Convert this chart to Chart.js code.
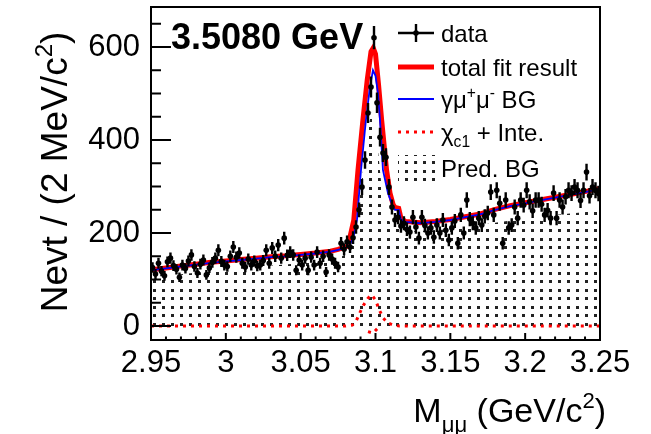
<!DOCTYPE html>
<html><head><meta charset="utf-8">
<script src="https://cdn.jsdelivr.net/npm/chart.js@4/dist/chart.umd.min.js"></script>
<style>html,body{margin:0;padding:0;background:#fff}#wrap{width:651px;height:434px;position:relative}</style>
</head><body><div id="wrap"><canvas id="c" width="651" height="434"></canvas></div>
<script>
// ---------------- data ----------------
const binLow = 2.95, binWidth = 0.002, nBins = 150;
const binCentres = Array.from({length: nBins}, (_, i) => +(binLow + binWidth * (i + 0.5)).toFixed(4));
const counts = [
 126,112,135,118,108,138,146,130,122,105,
 131,124,140,153,128,114,133,142,110,125,
 137,146,163,139,131,128,150,170,148,157,
 135,127,144,131,140,129,131,141,163,135,
 168,150,174,146,189,152,159,153,120,142,
 131,146,120,148,131,159,135,150,116,153,
 144,135,127,178,165,181,170,190,213,250,
 299,357,458,514,620,480,406,372,363,299,
 256,228,234,215,221,208,202,234,213,189,
 234,216,200,211,191,217,200,228,206,185,
 211,226,178,239,200,271,230,221,211,232,
 217,236,243,288,239,292,264,178,271,211,
 217,256,232,271,260,292,267,248,271,271,
 262,239,249,232,286,232,271,256,278,292,
 286,299,292,270,292,331,280,299,292,285
];
// gamma mu+ mu- background (blue)
const bgX = [2.950,2.960,2.970,2.980,2.990,3.000,3.010,3.020,3.030,3.040,3.050,3.060,3.070,3.075,3.080,3.083,3.0855,3.0876,3.0903,3.0936,3.0963,3.0983,3.1000,3.1017,3.1030,3.1050,3.1083,3.1117,3.1130,3.1155,3.1170,3.1200,3.130,3.140,3.150,3.160,3.170,3.180,3.190,3.200,3.210,3.220,3.230,3.240,3.250];
const bgY = [120,124,128,132,136,139,142,145,148,150,153,156,160,164,168,175,195,228,335,443,514,550,538,500,443,335,286,256,250,250,229,224,221,224,228,234,240,250,258,264,270,276,282,288,295];
// total fit result (red)
const totX = [2.950,2.960,2.970,2.980,2.990,3.000,3.010,3.020,3.030,3.040,3.050,3.060,3.070,3.075,3.0816,3.0855,3.0883,3.0916,3.0945,3.0970,3.0985,3.1000,3.1020,3.1041,3.1074,3.1097,3.1117,3.1130,3.1155,3.1170,3.1200,3.130,3.140,3.150,3.160,3.170,3.180,3.190,3.200,3.210,3.220,3.230,3.240,3.250];
const totY = [121,125,129,133,137,140,143,146,149,151,154,157,161,165,172,228,335,443,530,590,598,585,520,443,335,286,262,255,253,232,225,222,225,229,235,241,251,259,265,271,277,283,289,296];
// chi_c1 + interference (red dotted)
const chiX = [2.950,3.080,3.0845,3.0870,3.0890,3.0920,3.0950,3.0975,3.1000,3.1025,3.1050,3.1080,3.1120,3.1160,3.250];
const chiY = [0,0,2,10,25,45,60,67,56,35,18,7,2,0,0];
const chiDipX = [3.0950,3.0983,3.1017];
const chiDipY = [-12,-15,-4];
// predicted background histogram (dotted fill)
const predX = [2.950,2.990,3.000,3.050,3.075,3.083,3.087,3.090,3.093,3.097,3.101,3.104,3.107,3.111,3.115,3.120,3.150,3.180,3.210,3.250];
const predY = [105,118,122,135,145,160,200,290,370,460,400,300,240,215,210,203,208,222,236,248];

const xTickValues = [2.95,3.00,3.05,3.10,3.15,3.20,3.25];
const xTickLabels = ['2.95','3','3.05','3.1','3.15','3.2','3.25'];
const yTickValues = [0,200,400,600];
const yTickLabels = ['0','200','400','600'];
const titleText = '3.5080 GeV';
const yTitle = [['Nevt / (2 MeV/c',0],['2',1],[')',0]];
const xTitle = [['M',0],['\u03bc\u03bc',-1],[' (GeV/c',0],['2',1],[')',0]];
const legendEntries = [
  [['data',0]],
  [['total fit result',0]],
  [['\u03b3\u03bc',0],['+',1],['\u03bc',0],['-',1],[' BG',0]],
  [['\u03c7',0],['c1',-1],[' + Inte.',0]],
  [['Pred. BG',0]]
];

// ---------------- drawing ----------------
const FONT = "'Liberation Sans', Arial, Helvetica, sans-serif";
const canvas = document.getElementById('c');
const ctx0 = canvas.getContext('2d');

function makePattern(ctx){
  const c = document.createElement('canvas'); c.width = 18; c.height = 17;
  const g = c.getContext('2d'); g.fillStyle = '#222';
  g.fillRect(0,0,3,3); g.fillRect(9,0,3,3); g.fillRect(0,8,3,3); g.fillRect(9,8,3,3);
  return ctx.createPattern(c,'repeat');
}
const dotPattern = makePattern(ctx0);

function pts(xs, ys){ return xs.map((x,i)=>({x:x, y:ys[i]})); }

function richWidth(ctx, parts, size, weight){
  let w = 0;
  for (const [t,m] of parts){ ctx.font = (weight||'') + ' ' + (m ? size*0.65 : size) + 'px ' + FONT; w += ctx.measureText(t).width; }
  return w;
}
function drawRich(ctx, parts, x, baseline, size, weight){
  let cx = x;
  for (const [t,m] of parts){
    const s = m ? size*0.65 : size;
    ctx.font = (weight||'') + ' ' + s + 'px ' + FONT;
    const dy = m === 1 ? -size*0.40 : (m === -1 ? size*0.28 : 0);
    ctx.fillText(t, cx, baseline + dy);
    cx += ctx.measureText(t).width;
  }
}

const custom = {
  id: 'custom',
  afterDatasetsDraw(chart){
    const {ctx, chartArea:a, scales:{x, y}} = chart;
    ctx.save();
    ctx.beginPath(); ctx.rect(a.left, a.top, a.right-a.left, a.bottom-a.top); ctx.clip();
    ctx.strokeStyle = '#000'; ctx.lineWidth = 2.4;
    counts.forEach((n, i) => {
      const c = binCentres[i], e = Math.sqrt(n);
      const px = x.getPixelForValue(c), py = y.getPixelForValue(n);
      ctx.beginPath();
      ctx.moveTo(px, y.getPixelForValue(n - e)); ctx.lineTo(px, y.getPixelForValue(n + e));
      ctx.moveTo(x.getPixelForValue(c - binWidth/2), py); ctx.lineTo(x.getPixelForValue(c + binWidth/2), py);
      ctx.stroke();
    });
    ctx.restore();
  },
  afterDraw(chart){
    const {ctx, chartArea:a, scales:{x, y}} = chart;
    ctx.save();
    ctx.strokeStyle = '#000'; ctx.fillStyle = '#000';
    // ticks (inside frame)
    ctx.lineWidth = 2;
    ctx.beginPath();
    for (let k = 0; k <= 13; k++){
      const v = k*50; const py = y.getPixelForValue(v);
      const len = (v % 200 === 0) ? 20 : 10;
      ctx.moveTo(a.left, py); ctx.lineTo(a.left + len, py);
    }
    for (let k = 0; k <= 30; k++){
      const v = 2.95 + k*0.01; const px = x.getPixelForValue(v);
      const len = (k % 5 === 0) ? 7 : 3.5;
      ctx.moveTo(px, a.bottom); ctx.lineTo(px, a.bottom - len);
    }
    ctx.stroke();
    // frame
    ctx.lineWidth = 2;
    ctx.strokeRect(a.left, a.top, a.right - a.left, a.bottom - a.top);

    // title in plot
    ctx.textBaseline = 'alphabetic'; ctx.textAlign = 'left';
    ctx.font = 'bold 36px ' + FONT;
    ctx.fillText(titleText, 171, 49);

    // legend
    const lx0 = 398, lx1 = 434, tx = 441, rows = [33, 67, 99, 132, 168];
    ctx.lineWidth = 2.4; ctx.strokeStyle = '#000';
    ctx.beginPath(); ctx.moveTo(lx0, rows[0]); ctx.lineTo(lx1, rows[0]);
    ctx.moveTo((lx0+lx1)/2, rows[0]-9); ctx.lineTo((lx0+lx1)/2, rows[0]+9); ctx.stroke();
    ctx.beginPath(); ctx.arc((lx0+lx1)/2, rows[0], 2.8, 0, Math.PI*2); ctx.fill();
    ctx.strokeStyle = '#ff0000'; ctx.lineWidth = 5;
    ctx.beginPath(); ctx.moveTo(lx0, rows[1]); ctx.lineTo(lx1, rows[1]); ctx.stroke();
    ctx.strokeStyle = '#0000ff'; ctx.lineWidth = 1.8;
    ctx.beginPath(); ctx.moveTo(lx0, rows[2]); ctx.lineTo(lx1, rows[2]); ctx.stroke();
    ctx.strokeStyle = '#ff0000'; ctx.lineWidth = 3; ctx.setLineDash([3,5]);
    ctx.beginPath(); ctx.moveTo(lx0, rows[3]); ctx.lineTo(lx1, rows[3]); ctx.stroke();
    ctx.setLineDash([]);
    ctx.fillStyle = dotPattern; ctx.fillRect(lx0, rows[4]-13, lx1 - lx0 + 3, 30);
    ctx.fillStyle = '#000';
    legendEntries.forEach((parts, i) => drawRich(ctx, parts, tx, rows[i] + 8.5, 24));

    // axis titles
    const ys = 37;
    const yw = richWidth(ctx, yTitle, ys);
    ctx.save(); ctx.translate(67, 172); ctx.rotate(-Math.PI/2);
    drawRich(ctx, yTitle, -yw/2, 0, ys); ctx.restore();
    const xs = 34;
    const xw = richWidth(ctx, xTitle, xs);
    drawRich(ctx, xTitle, 606 - xw, 422, xs);
    ctx.restore();
  }
};

new Chart(ctx0, {
  type: 'line',
  data: { datasets: [
    { label: 'data', data: pts(binCentres, counts), showLine: false, pointRadius: 2.8, pointBackgroundColor: '#000', pointBorderWidth: 0, order: 0 },
    { label: 'bg', data: pts(bgX, bgY), borderColor: '#0000ff', borderWidth: 1.8, pointRadius: 0, tension: 0, fill: false, order: 1 },
    { label: 'total', data: pts(totX, totY), borderColor: '#ff0000', borderWidth: 5, pointRadius: 0, tension: 0, fill: false, order: 2 },
    { label: 'chi', data: pts(chiX, chiY), borderColor: '#ff0000', borderWidth: 3, borderDash: [3,5], pointRadius: 0, tension: 0, fill: false, order: 3 },
    { label: 'chidip', data: pts(chiDipX, chiDipY), borderColor: '#ff0000', borderWidth: 3, borderDash: [3,5], pointRadius: 0, tension: 0, fill: false, order: 3 },
    { label: 'pred', data: pts(predX, predY), borderWidth: 0, borderColor: 'rgba(0,0,0,0)', backgroundColor: dotPattern, fill: 'origin', pointRadius: 0, tension: 0, order: 5 }
  ]},
  options: {
    responsive: false, animation: false, events: [],
    layout: { padding: { left: 0, right: 51, top: 7, bottom: 0 } },
    plugins: { legend: { display: false }, tooltip: { enabled: false }, title: { display: false } },
    scales: {
      x: {
        type: 'linear', min: 2.95, max: 3.25,
        afterBuildTicks: s => { s.ticks = xTickValues.map(v => ({value: v})); },
        afterFit: s => { s.height = 94; s.paddingLeft = 0; s.paddingRight = 0; },
        grid: { display: false, drawTicks: false }, border: { display: false },
        ticks: { color: '#000', font: { family: FONT, size: 31 }, padding: 5, maxRotation: 0, autoSkip: false,
                 callback: (v, i) => xTickLabels[i] }
      },
      y: {
        type: 'linear', min: -30, max: 686,
        afterBuildTicks: s => { s.ticks = yTickValues.map(v => ({value: v})); },
        afterFit: s => { s.width = 151; s.paddingTop = 0; s.paddingBottom = 0; },
        grid: { display: false, drawTicks: false }, border: { display: false },
        ticks: { color: '#000', font: { family: FONT, size: 31 }, padding: 11, autoSkip: false,
                 callback: (v, i) => yTickLabels[i] }
      }
    }
  },
  plugins: [custom]
});
</script>
</body></html>
